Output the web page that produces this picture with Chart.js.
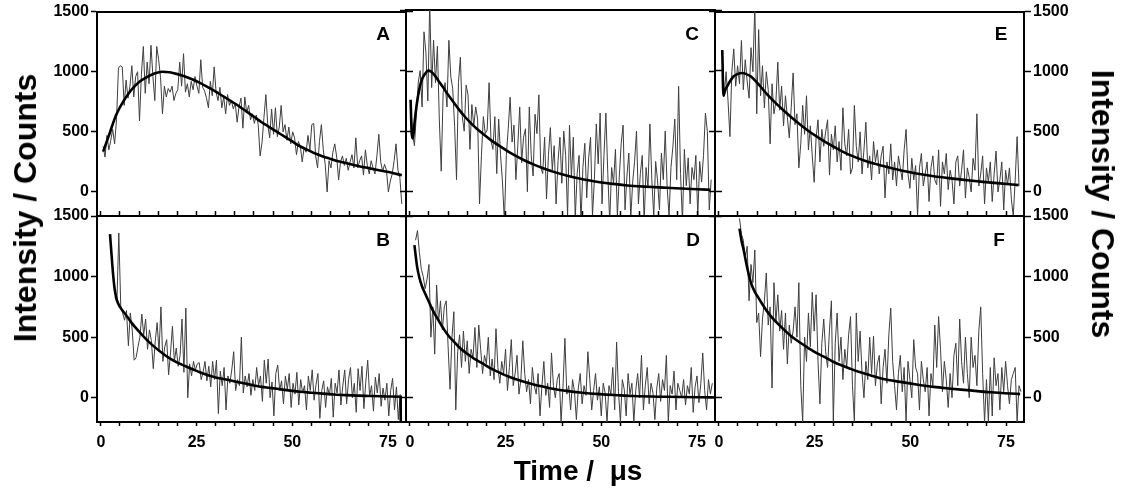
<!DOCTYPE html>
<html>
<head>
<meta charset="utf-8">
<script src="https://cdn.jsdelivr.net/npm/chart.js@4.4.1/dist/chart.umd.min.js"></script>
<style>
  html, body { margin: 0; padding: 0; background: #fff; }
  #wrap { position: relative; width: 1122px; height: 492px; overflow: hidden; background: #fff; }
  #wrap canvas { position: absolute; left: 0; top: 0; }
  .lbl { position: absolute; font-family: 'Liberation Sans', Arial, sans-serif; font-weight: bold; color: #000; line-height: 1; white-space: pre; }
  .panel { font-size: 19px; transform: translate(-50%, -50%); }
  .ytitle { font-size: 32px; }
  .ytitle.left { transform: translate(-50%, -50%) rotate(-90deg); }
  .ytitle.right { transform: translate(-50%, -50%) rotate(90deg); }
  .xtitle { font-size: 28px; transform: translate(-50%, -50%); }
</style>
</head>
<body>
<div id="wrap">
  <canvas id="cA" width="1122" height="492"></canvas>
  <canvas id="cB" width="1122" height="492"></canvas>
  <canvas id="cC" width="1122" height="492"></canvas>
  <canvas id="cD" width="1122" height="492"></canvas>
  <canvas id="cE" width="1122" height="492"></canvas>
  <canvas id="cF" width="1122" height="492"></canvas>
  <div class="lbl panel" style="left:383px;top:33px">A</div>
  <div class="lbl panel" style="left:692px;top:33px">C</div>
  <div class="lbl panel" style="left:1001px;top:33px">E</div>
  <div class="lbl panel" style="left:383px;top:239px">B</div>
  <div class="lbl panel" style="left:693px;top:239px">D</div>
  <div class="lbl panel" style="left:999px;top:239px">F</div>
  <div class="lbl ytitle left" style="left:25px;top:208px">Intensity / Counts</div>
  <div class="lbl ytitle right" style="left:1103px;top:204px">Intensity / Counts</div>
  <div class="lbl xtitle" style="left:578px;top:471px">Time /  μs</div>
</div>
<script>
const timeTicks = [0, 25, 50, 75];
const countTicks = [0, 500, 1000, 1500];
const DT = 0.5; // sampling step of the measured traces, µs

// measured traces (counts), sampled every DT from the start time
const startA = 0.6;
const dataA = [
  380, 290, 470, 350, 430, 520, 400, 600, 1030, 1050,
  1040, 720, 930, 780, 880, 1050, 790, 960, 1000, 590,
  980, 1210, 820, 1080, 900, 1220, 960, 760, 1210, 1100,
  950, 650, 880, 790, 860, 830, 880, 760, 820, 850,
  1080, 880, 1150, 830, 900, 790, 920, 850, 960, 880,
  820, 1100, 870, 840, 780, 700, 920, 800, 1040, 830,
  760, 870, 700, 790, 650, 810, 720, 760, 690, 740,
  580, 710, 780, 530, 790, 660, 720, 600, 650, 570,
  640, 560, 300, 410, 620, 810, 560, 450, 690, 480,
  700, 460, 540, 720, 500, 560, 430, 540, 400, 500,
  450, 310, 420, 380, 250, 370, 330, 470, 350, 560,
  570, 300, 200, 420, 560, 350, 230, 0, 260, 200,
  330, 400, 290, 100, 250, 300, 220, 280, 180, 250,
  310, 200, 450, 200, 260, 300, 140, 350, 220, 150,
  260, 200, 150, 300, 480, 250, 170, 230, 180, 0,
  90, 150, 260, 400, 180, 120, -100
];
const startB = 3.7;
const dataB = [
  830, 790, 1360, 760, 700, 640, 720, 430, 700, 560,
  310, 330, 420, 500, 690, 520, 650, 400, 560, 470,
  240, 460, 620, 380, 750, 300, 420, 480, 190, 370,
  590, 300, 410, 260, 350, 650, 210, 740, 0, 280,
  180, 300, 230, 280, 290, 150, 210, 300, 140, 260,
  90, 300, 150, 310, -130, 220, 100, 250, -100, 180,
  120, 230, 380, 60, 150, 100, 500, 40, 180, 90,
  200, 20, 150, 60, 250, 100, 180, -30, 310, 120,
  320, 0, 130, -150, 200, 270, 60, 140, -50, 180,
  70, 200, -80, 120, 30, 210, -60, 150, 40, 100,
  -100, 180, 60, 230, -20, 110, 200, -170, 60, 140,
  -80, 90, 20, 160, -160, 120, 40, 230, -60, 100,
  230, -50, 150, 250, 0, 120, -120, 240, 60, 260,
  -90, 130, 310, 10, 100, -110, 170, 40, 200, -70,
  80, -20, 120, -150, 60, 160, -100, 90, -180, 30
];
const startC = 0.2;
const dataC = [
  740, 480, 380, 640, 900, 1000, 700, 1320, 1150, 750,
  1560, 860, 1250, 900, 1200, 600, 170, 820, 900, 700,
  1250, 950, 850, 540, 100, 900, 1110, 620, 500, 880,
  800, 350, 720, 540, 700, 600, -100, 300, 620, 480,
  510, 900, 420, 350, 620, 150, 600, 300, 80, -250,
  300, 520, 780, 410, 550, 100, 380, 700, 240, 450,
  520, 0, 700, 300, 130, 640, 480, 800, 200, 150,
  450, -60, 300, 530, 180, 380, -100, 250, 450, 70,
  500, 300, -200, 550, 120, 450, -220, 150, 300, -250,
  200, 400, -50, 280, 450, -200, 100, 560, 230, 650,
  -100, 300, 650, 150, -250, 200, 70, 350, -200, 120,
  400, 550, -150, 130, 320, -220, 80, 250, 500, -100,
  150, 300, -250, 200, 30, 560, 100, -200, 250, 90,
  -150, 320, 100, 500, 40, -200, 200, 370, 600, 100,
  870, 150, -250, 350, 50, 280, -100, 200, 100, 300,
  -200, 250, 80, 300, 650, 500, -150, 100
];
const startD = 1.5;
const dataD = [
  1300, 1380, 1200, 1060, 1000, 900, 980, 1100, 500, 750,
  360, 930, 620, 800, 560, 750, 800, 420, 70, 500,
  710, -100, 380, 520, 250, 550, 300, 470, 200, 400,
  330, 580, 250, 600, 400, 200, 350, 280, 500, 180,
  320, 150, 570, 250, 120, 300, 200, 400, 60, 250,
  480, 100, 200, 350, 30, 150, 470, 200, 50, 150,
  -50, 250, 100, 30, 200, -150, 100, 300, 20, 120,
  -80, 370, 100, 0, 150, 200, -200, 90, 490, 30,
  100, -100, 150, 50, -180, 80, 200, -50, 100, 20,
  380, 150, -100, 60, 200, -20, 90, -150, 120, 40,
  -200, 100, 30, 250, -100, 460, 50, -200, 150, 70,
  -150, 200, 30, 120, -200, 60, 200, 0, 350, -100,
  100, 250, -50, 120, 40, -180, 80, 200, -30, 150,
  60, 350, -200, 100, 30, 220, -100, 120, 60, 0,
  150, -60, 100, 30, 250, -120, 90, 180, -40, 120,
  370, 60, -100, 150, 30, 120
];
const startE = 0.9;
const dataE = [
  1180, 800, 1000, 760, 460, 1000, 1190, 880, 1050, 900,
  1260, 850, 1100, 920, 780, 1200, 1000, 1550, 650, 1350,
  800, 1050, 700, 1000, 850, 400, 900, 650, 750, 1080,
  680, 880, 550, 800, 620, 450, 700, 990, 560, 650,
  200, 400, 720, 480, 800, 350, 550, 300, 80, 450,
  600, 250, 520, 380, 500, 600, 140, 480, 350, 550,
  250, 420, 180, 700, 400, 300, 520, 150, 200, 720,
  380, 250, 500, 150, 350, 580, 200, 300, 100, 420,
  250, 350, 150, 300, 380, -50, 250, 150, 400, 100,
  250, 50, 300, 200, 100, 350, 520, 150, 30, 280,
  100, 220, -200, 200, 320, 50, 150, 250, -80, 200,
  300, 100, 60, 350, -120, 250, 150, 320, 20, 180,
  100, -100, 250, 300, 50, 180, 350, -50, 200, 120,
  0, 280, 180, 650, 50, 150, 300, -100, 200, 80,
  250, -80, 150, 340, 0, 100, 250, -150, 180, 60,
  200, -60, -200, 100, 460, 50
];
const startF = 5.4;
const dataF = [
  1480, 1350, 1300, 1150, 1250, 800, 1100, 950, 1220, 620,
  700, 340, 650, 800, 1030, 600, 750, 80, 950, 620,
  850, 550, 720, 400, 700, 280, 600, 450, 550, 750,
  500, 950, 100, -200, 500, 300, 700, 420, 870, 550,
  850, 300, -50, 450, 650, 380, 250, 560, 800, -200,
  450, 700, 300, 500, 150, 400, 250, 520, 670, 100,
  -200, 700, 300, 550, 200, 0, 300, 150, 500, 200,
  510, 100, 280, 350, -50, 250, 400, 120, 520, 740,
  300, 100, -100, 200, 350, 50, 250, -200, 300, 150,
  0, 480, 250, 200, -100, 300, 150, 50, 250, -150,
  200, 100, 600, 250, 670, 400, 50, 300, 150, -80,
  200, 0, 350, 450, 100, 650, 300, 120, 500, 200,
  0, 500, 250, 350, 100, 550, 750, 200, -200, 150,
  -200, 250, -150, 330, 100, 200, -100, 250, 50, 300,
  100, -50, 150, 200, 250, -200, 100, 50
];

// fitted curves, read at these times (µs)
const fitTimeA = [0.6, 2, 4, 6, 8, 10, 12, 14, 16, 18, 20, 22, 24, 26, 28, 30, 32, 34, 36, 38,
  40, 42, 44, 46, 48, 50, 52, 54, 56, 58, 60, 62, 64, 66, 68, 70, 72, 74, 76, 78.6];
const fitA = [335, 460, 640, 760, 850, 915, 955, 985, 1000, 995, 980, 960, 935, 905, 870, 835, 795, 755, 715, 670,
  625, 580, 540, 500, 460, 420, 380, 350, 320, 295, 275, 255, 240, 225, 210, 198, 185, 172, 160, 139];
const fitTimeB = [2.4, 2.8, 3.2, 3.6, 4, 4.5, 5, 6, 7, 8, 10, 12, 14, 16, 18, 20, 22, 24, 26, 28,
  30, 32, 34, 36, 38, 40, 42, 44, 46, 48, 50, 52, 55, 58, 61, 64, 67, 70, 73, 76, 78.3, 78.35];
const fitB = [1350, 1180, 1020, 900, 830, 780, 750, 705, 665, 620, 545, 478, 420, 370, 325, 290, 262, 235, 208, 185,
  168, 155, 142, 128, 115, 102, 90, 82, 74, 65, 57, 50, 42, 34, 27, 22, 18, 15, 12, 10, 8, -400];
const fitTimeC = [0.2, 0.5, 0.8, 1.2, 1.8, 2.5, 3.2, 4, 4.8, 5.6, 6.5, 7.5, 8.5, 10, 11.5, 13, 14.5, 16, 17.5, 19,
  21, 23.4, 25.5, 27.7, 30, 32.1, 35, 38, 40.9, 44, 47, 49.6, 53, 56, 58.4, 62, 65, 67.1, 71, 75, 78.5];
const fitC = [760, 480, 440, 560, 720, 850, 930, 975, 1000, 990, 960, 915, 870, 800, 735, 672, 615, 565, 520, 480,
  430, 378, 336, 296, 258, 228, 192, 160, 135, 112, 93, 79, 65, 55, 48, 41, 36, 33, 27, 21, 16];
const fitTimeD = [1.2, 1.9, 2.5, 3.2, 4, 5, 5.9, 7, 8, 9, 10.2, 12, 13, 14.6, 16, 17, 19, 21, 23.4, 25,
  27.7, 30, 32.1, 35, 36.5, 40.9, 45, 49.6, 55, 58.4, 67.1, 79.4];
const fitD = [1260, 1082, 990, 918, 860, 790, 727, 665, 612, 560, 508, 447, 413, 372, 340, 318, 284, 245, 208, 185,
  153, 130, 112, 90, 79, 57, 42, 30, 20, 14, 8, 3];
const fitTimeE = [0.9, 1.2, 1.6, 2.2, 3, 3.9, 5, 6.1, 7.2, 8.3, 10.5, 12.6, 15, 17, 19, 21.3, 23.5, 25.7, 28, 30,
  34, 38.7, 43, 47.4, 52, 56.1, 60, 64.8, 69, 73.5, 78.3];
const fitE = [1180, 800, 840, 880, 925, 962, 982, 989, 980, 962, 890, 812, 735, 676, 620, 559, 505, 458, 412, 376,
  310, 253, 215, 180, 152, 131, 115, 98, 84, 71, 57];
const fitTimeF = [5.4, 5.9, 6.5, 7.3, 8.3, 9.3, 10.4, 11.5, 12.6, 14.5, 17, 19, 21.3, 23.5, 25.7, 28, 30, 32, 34.3, 36.5,
  38.7, 43, 47.4, 52, 56.1, 60, 64.8, 71, 78.7];
const fitF = [1396, 1300, 1218, 1090, 959, 880, 822, 765, 713, 640, 563, 505, 454, 408, 366, 330, 295, 268, 240, 215,
  194, 155, 131, 108, 90, 77, 63, 45, 30];

const X_MIN = -1, X_MAX = 79.7, Y_MIN = -200, Y_MAX = 1500;
const Y_LABEL_W = 60, X_LABEL_H = 40;

Chart.defaults.font.family = "'Liberation Sans', Arial, sans-serif";
Chart.defaults.font.weight = 'bold';
Chart.defaults.font.size = 16;
Chart.defaults.color = '#000';

function xScale(position, tickLen, labels) {
  return {
    type: 'linear', position, min: X_MIN, max: X_MAX,
    afterFit: s => { s.height = labels ? X_LABEL_H : 0; },
    border: { display: true, color: '#000', width: 2 },
    grid: { drawOnChartArea: false, drawTicks: tickLen > 0, tickLength: tickLen, tickWidth: 1.5, color: '#000', tickColor: '#000' },
    ticks: {
      display: labels, stepSize: 5, includeBounds: false, autoSkip: false, maxRotation: 0, padding: 7,
      callback: v => timeTicks.includes(v) ? String(v) : ''
    }
  };
}

function yScale(position, tickLen, labels) {
  return {
    type: 'linear', position, min: Y_MIN, max: Y_MAX,
    afterFit: s => { s.width = labels ? Y_LABEL_W : 0; },
    afterBuildTicks: s => { s.ticks = countTicks.map(value => ({ value })); },
    border: { display: true, color: '#000', width: 2 },
    grid: { drawOnChartArea: false, drawTicks: true, tickLength: tickLen, tickWidth: 1.5, color: '#000', tickColor: '#000' },
    ticks: { display: labels, autoSkip: false, padding: 2, callback: v => String(v) }
  };
}

const panels = [
  { id: 'cA', start: startA, data: dataA, fitT: fitTimeA, fit: fitA, box: [97, 10, 406, 216], bottom: false, col: 0 },
  { id: 'cC', start: startC, data: dataC, fitT: fitTimeC, fit: fitC, box: [406, 10, 715, 216], bottom: false, col: 1 },
  { id: 'cE', start: startE, data: dataE, fitT: fitTimeE, fit: fitE, box: [715, 10, 1024, 216], bottom: false, col: 2 },
  { id: 'cB', start: startB, data: dataB, fitT: fitTimeB, fit: fitB, box: [97, 216, 406, 422], bottom: true, col: 0 },
  { id: 'cD', start: startD, data: dataD, fitT: fitTimeD, fit: fitD, box: [406, 216, 715, 422], bottom: true, col: 1 },
  { id: 'cF', start: startF, data: dataF, fitT: fitTimeF, fit: fitF, box: [715, 216, 1024, 422], bottom: true, col: 2 }
];

panels.forEach(p => {
  const [l, t, r, b] = p.box;
  const trace = p.data.map((v, i) => ({ x: +(p.start + i * DT).toFixed(2), y: v }));
  const curve = p.fit.map((v, i) => ({ x: p.fitT[i], y: v }));
  const leftLabels = p.col === 0, rightLabels = p.col === 2;
  new Chart(document.getElementById(p.id), {
    type: 'line',
    data: {
      datasets: [
        { label: 'Fit', data: curve, borderColor: '#000', borderWidth: 2.6, pointRadius: 0,
          cubicInterpolationMode: 'monotone', order: 0 },
        { label: 'Data', data: trace, borderColor: '#3e3e3e', borderWidth: 1, pointRadius: 0,
          tension: 0, order: 1 }
      ]
    },
    options: {
      responsive: false,
      devicePixelRatio: 1,
      animation: false,
      events: [],
      layout: {
        padding: {
          left: l - (leftLabels ? Y_LABEL_W : 0),
          top: t,
          right: 1122 - r - (rightLabels ? Y_LABEL_W : 0),
          bottom: 492 - b - (p.bottom ? X_LABEL_H : 0)
        }
      },
      plugins: { legend: { display: false }, tooltip: { enabled: false } },
      scales: {
        x: xScale('bottom', p.bottom ? 4 : 0, p.bottom),
        xTop: xScale('top', p.bottom ? 5 : 0, false),
        y: yScale('left', 6, leftLabels),
        yRight: yScale('right', 7, rightLabels)
      }
    }
  });
});
</script>
</body>
</html>
